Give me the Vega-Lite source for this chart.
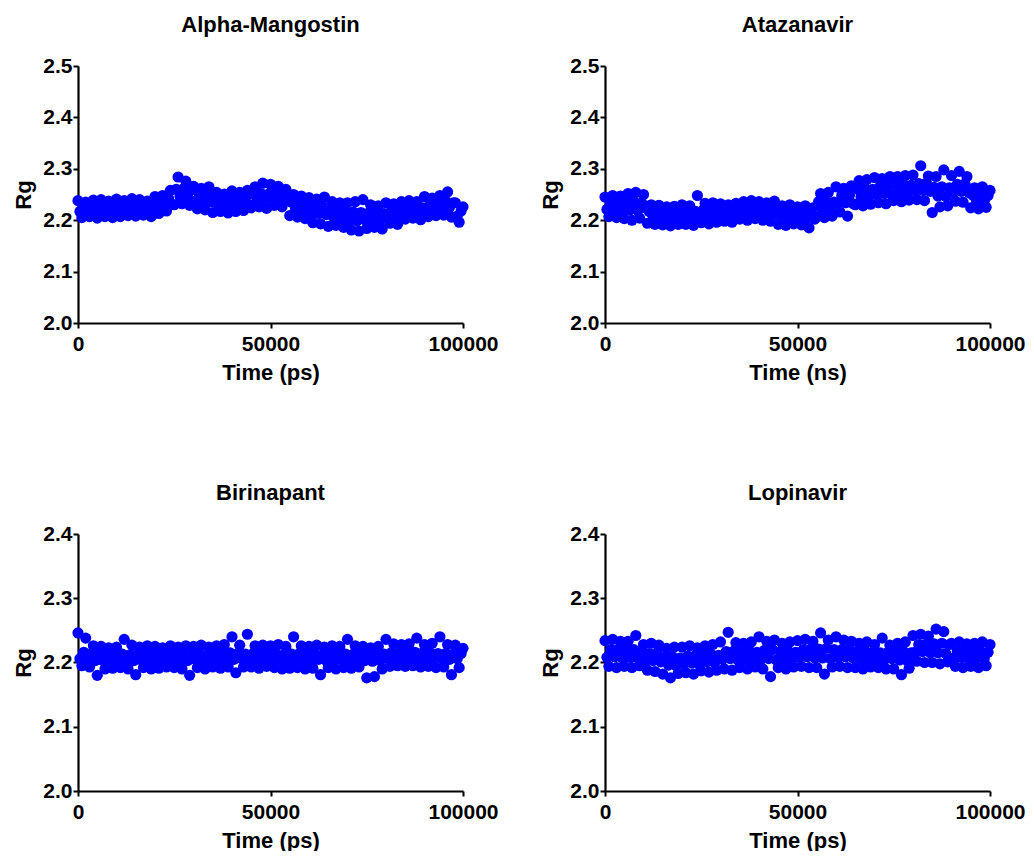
{
"$schema": "https://vega.github.io/schema/vega-lite/v6.json",
"padding": {"left": 12, "top": 14, "right": 4, "bottom": 0},
"bounds": "flush",
"columns": 2,
"spacing": {"row": 211, "column": 142},
"config": {
  "view": {"stroke": null},
  "font": "Liberation Sans",
  "title": {"fontSize": 22, "fontWeight": "bold", "font": "Liberation Sans", "color": "black", "offset": 18},
  "axis": {"domainColor": "black", "domainWidth": 2.2, "tickColor": "black", "tickWidth": 2, "tickSize": 5, "grid": false,
    "labelFont": "Liberation Sans", "labelFontSize": 21, "labelFontWeight": "bold", "labelColor": "black", "labelFlush": false, "labelPadding": 1,
    "titleFont": "Liberation Sans", "titleFontSize": 22, "titleFontWeight": "bold", "titleColor": "black"},
  "axisX": {"labelPadding": 5, "titlePadding": 8},
  "axisY": {"titlePadding": 7}
},
"datasets": {
"am": [
{"t":0,"r":2.238},{"t":500,"r":2.217},{"t":1000,"r":2.205},{"t":1500,"r":2.226},{"t":2000,"r":2.235},{"t":2500,"r":2.218},{"t":3000,"r":2.207},{"t":3500,"r":2.227},{"t":4000,"r":2.239},{"t":4500,"r":2.216},
{"t":5000,"r":2.204},{"t":5500,"r":2.228},{"t":6000,"r":2.240},{"t":6500,"r":2.217},{"t":7000,"r":2.207},{"t":7500,"r":2.227},{"t":8000,"r":2.237},{"t":8500,"r":2.218},{"t":9000,"r":2.205},{"t":9500,"r":2.229},
{"t":10000,"r":2.241},{"t":10500,"r":2.219},{"t":11000,"r":2.207},{"t":11500,"r":2.229},{"t":12000,"r":2.238},{"t":12500,"r":2.220},{"t":13000,"r":2.209},{"t":13500,"r":2.228},{"t":14000,"r":2.242},{"t":14500,"r":2.218},
{"t":15000,"r":2.208},{"t":15500,"r":2.229},{"t":16000,"r":2.240},{"t":16500,"r":2.219},{"t":17000,"r":2.210},{"t":17500,"r":2.228},{"t":18000,"r":2.237},{"t":18500,"r":2.220},{"t":19000,"r":2.207},{"t":19500,"r":2.230},
{"t":20000,"r":2.246},{"t":20500,"r":2.225},{"t":21000,"r":2.213},{"t":21500,"r":2.234},{"t":22000,"r":2.248},{"t":22500,"r":2.228},{"t":23000,"r":2.218},{"t":23500,"r":2.243},{"t":24000,"r":2.258},{"t":24500,"r":2.231},
{"t":25000,"r":2.230},{"t":25500,"r":2.260},{"t":26000,"r":2.284},{"t":26500,"r":2.246},{"t":27000,"r":2.232},{"t":27500,"r":2.262},{"t":28000,"r":2.276},{"t":28500,"r":2.247},{"t":29000,"r":2.229},{"t":29500,"r":2.259},
{"t":30000,"r":2.266},{"t":30500,"r":2.237},{"t":31000,"r":2.222},{"t":31500,"r":2.249},{"t":32000,"r":2.262},{"t":32500,"r":2.238},{"t":33000,"r":2.220},{"t":33500,"r":2.250},{"t":34000,"r":2.265},{"t":34500,"r":2.236},
{"t":35000,"r":2.215},{"t":35500,"r":2.240},{"t":36000,"r":2.254},{"t":36500,"r":2.229},{"t":37000,"r":2.217},{"t":37500,"r":2.241},{"t":38000,"r":2.251},{"t":38500,"r":2.230},{"t":39000,"r":2.214},{"t":39500,"r":2.239},
{"t":40000,"r":2.257},{"t":40500,"r":2.231},{"t":41000,"r":2.217},{"t":41500,"r":2.243},{"t":42000,"r":2.254},{"t":42500,"r":2.232},{"t":43000,"r":2.219},{"t":43500,"r":2.244},{"t":44000,"r":2.258},{"t":44500,"r":2.230},
{"t":45000,"r":2.224},{"t":45500,"r":2.251},{"t":46000,"r":2.265},{"t":46500,"r":2.238},{"t":47000,"r":2.226},{"t":47500,"r":2.252},{"t":48000,"r":2.272},{"t":48500,"r":2.239},{"t":49000,"r":2.223},{"t":49500,"r":2.251},
{"t":50000,"r":2.270},{"t":50500,"r":2.243},{"t":51000,"r":2.229},{"t":51500,"r":2.254},{"t":52000,"r":2.266},{"t":52500,"r":2.239},{"t":53000,"r":2.226},{"t":53500,"r":2.248},{"t":54000,"r":2.260},{"t":54500,"r":2.238},
{"t":55000,"r":2.209},{"t":55500,"r":2.235},{"t":56000,"r":2.250},{"t":56500,"r":2.222},{"t":57000,"r":2.206},{"t":57500,"r":2.233},{"t":58000,"r":2.247},{"t":58500,"r":2.220},{"t":59000,"r":2.203},{"t":59500,"r":2.231},
{"t":60000,"r":2.244},{"t":60500,"r":2.212},{"t":61000,"r":2.195},{"t":61500,"r":2.226},{"t":62000,"r":2.241},{"t":62500,"r":2.213},{"t":63000,"r":2.193},{"t":63500,"r":2.227},{"t":64000,"r":2.245},{"t":64500,"r":2.211},
{"t":65000,"r":2.188},{"t":65500,"r":2.219},{"t":66000,"r":2.236},{"t":66500,"r":2.205},{"t":67000,"r":2.190},{"t":67500,"r":2.220},{"t":68000,"r":2.234},{"t":68500,"r":2.204},{"t":69000,"r":2.186},{"t":69500,"r":2.218},
{"t":70000,"r":2.234},{"t":70500,"r":2.200},{"t":71000,"r":2.181},{"t":71500,"r":2.216},{"t":72000,"r":2.236},{"t":72500,"r":2.199},{"t":73000,"r":2.179},{"t":73500,"r":2.215},{"t":74000,"r":2.240},{"t":74500,"r":2.201},
{"t":75000,"r":2.184},{"t":75500,"r":2.214},{"t":76000,"r":2.230},{"t":76500,"r":2.200},{"t":77000,"r":2.186},{"t":77500,"r":2.215},{"t":78000,"r":2.228},{"t":78500,"r":2.201},{"t":79000,"r":2.183},{"t":79500,"r":2.213},
{"t":80000,"r":2.234},{"t":80500,"r":2.208},{"t":81000,"r":2.194},{"t":81500,"r":2.220},{"t":82000,"r":2.232},{"t":82500,"r":2.209},{"t":83000,"r":2.192},{"t":83500,"r":2.221},{"t":84000,"r":2.236},{"t":84500,"r":2.207},
{"t":85000,"r":2.202},{"t":85500,"r":2.225},{"t":86000,"r":2.238},{"t":86500,"r":2.215},{"t":87000,"r":2.204},{"t":87500,"r":2.226},{"t":88000,"r":2.236},{"t":88500,"r":2.214},{"t":89000,"r":2.201},{"t":89500,"r":2.224},
{"t":90000,"r":2.246},{"t":90500,"r":2.221},{"t":91000,"r":2.207},{"t":91500,"r":2.232},{"t":92000,"r":2.243},{"t":92500,"r":2.222},{"t":93000,"r":2.209},{"t":93500,"r":2.233},{"t":94000,"r":2.248},{"t":94500,"r":2.220},
{"t":95000,"r":2.210},{"t":95500,"r":2.237},{"t":96000,"r":2.255},{"t":96500,"r":2.225},{"t":97000,"r":2.206},{"t":97500,"r":2.234},{"t":98000,"r":2.234},{"t":98500,"r":2.208},{"t":99000,"r":2.196},{"t":99500,"r":2.218},
{"t":100000,"r":2.226}
],
"at": [
{"t":0,"r":2.245},{"t":500,"r":2.221},{"t":1000,"r":2.207},{"t":1500,"r":2.233},{"t":2000,"r":2.248},{"t":2500,"r":2.222},{"t":3000,"r":2.205},{"t":3500,"r":2.234},{"t":4000,"r":2.247},{"t":4500,"r":2.220},
{"t":5000,"r":2.203},{"t":5500,"r":2.235},{"t":6000,"r":2.252},{"t":6500,"r":2.220},{"t":7000,"r":2.200},{"t":7500,"r":2.236},{"t":8000,"r":2.254},{"t":8500,"r":2.219},{"t":9000,"r":2.204},{"t":9500,"r":2.234},
{"t":10000,"r":2.250},{"t":10500,"r":2.224},{"t":11000,"r":2.194},{"t":11500,"r":2.217},{"t":12000,"r":2.230},{"t":12500,"r":2.207},{"t":13000,"r":2.192},{"t":13500,"r":2.218},{"t":14000,"r":2.229},{"t":14500,"r":2.206},
{"t":15000,"r":2.191},{"t":15500,"r":2.214},{"t":16000,"r":2.226},{"t":16500,"r":2.203},{"t":17000,"r":2.189},{"t":17500,"r":2.215},{"t":18000,"r":2.227},{"t":18500,"r":2.202},{"t":19000,"r":2.192},{"t":19500,"r":2.213},
{"t":20000,"r":2.230},{"t":20500,"r":2.205},{"t":21000,"r":2.192},{"t":21500,"r":2.217},{"t":22000,"r":2.228},{"t":22500,"r":2.206},{"t":23000,"r":2.190},{"t":23500,"r":2.217},{"t":24000,"r":2.248},{"t":24500,"r":2.204},
{"t":25000,"r":2.195},{"t":25500,"r":2.220},{"t":26000,"r":2.233},{"t":26500,"r":2.208},{"t":27000,"r":2.193},{"t":27500,"r":2.221},{"t":28000,"r":2.234},{"t":28500,"r":2.207},{"t":29000,"r":2.196},{"t":29500,"r":2.219},
{"t":30000,"r":2.232},{"t":30500,"r":2.210},{"t":31000,"r":2.198},{"t":31500,"r":2.220},{"t":32000,"r":2.230},{"t":32500,"r":2.211},{"t":33000,"r":2.196},{"t":33500,"r":2.221},{"t":34000,"r":2.233},{"t":34500,"r":2.209},
{"t":35000,"r":2.202},{"t":35500,"r":2.224},{"t":36000,"r":2.236},{"t":36500,"r":2.214},{"t":37000,"r":2.200},{"t":37500,"r":2.225},{"t":38000,"r":2.238},{"t":38500,"r":2.213},{"t":39000,"r":2.203},{"t":39500,"r":2.223},
{"t":40000,"r":2.236},{"t":40500,"r":2.213},{"t":41000,"r":2.200},{"t":41500,"r":2.223},{"t":42000,"r":2.234},{"t":42500,"r":2.214},{"t":43000,"r":2.198},{"t":43500,"r":2.224},{"t":44000,"r":2.237},{"t":44500,"r":2.212},
{"t":45000,"r":2.192},{"t":45500,"r":2.215},{"t":46000,"r":2.228},{"t":46500,"r":2.205},{"t":47000,"r":2.190},{"t":47500,"r":2.216},{"t":48000,"r":2.230},{"t":48500,"r":2.204},{"t":49000,"r":2.193},{"t":49500,"r":2.214},
{"t":50000,"r":2.226},{"t":50500,"r":2.203},{"t":51000,"r":2.191},{"t":51500,"r":2.214},{"t":52000,"r":2.228},{"t":52500,"r":2.204},{"t":53000,"r":2.185},{"t":53500,"r":2.213},{"t":54000,"r":2.224},{"t":54500,"r":2.202},
{"t":55000,"r":2.207},{"t":55500,"r":2.236},{"t":56000,"r":2.252},{"t":56500,"r":2.223},{"t":57000,"r":2.205},{"t":57500,"r":2.237},{"t":58000,"r":2.254},{"t":58500,"r":2.222},{"t":59000,"r":2.208},{"t":59500,"r":2.235},
{"t":60000,"r":2.265},{"t":60500,"r":2.233},{"t":61000,"r":2.216},{"t":61500,"r":2.248},{"t":62000,"r":2.262},{"t":62500,"r":2.234},{"t":63000,"r":2.208},{"t":63500,"r":2.249},{"t":64000,"r":2.267},{"t":64500,"r":2.232},
{"t":65000,"r":2.230},{"t":65500,"r":2.261},{"t":66000,"r":2.277},{"t":66500,"r":2.246},{"t":67000,"r":2.228},{"t":67500,"r":2.262},{"t":68000,"r":2.279},{"t":68500,"r":2.245},{"t":69000,"r":2.231},{"t":69500,"r":2.260},
{"t":70000,"r":2.283},{"t":70500,"r":2.251},{"t":71000,"r":2.234},{"t":71500,"r":2.266},{"t":72000,"r":2.281},{"t":72500,"r":2.252},{"t":73000,"r":2.232},{"t":73500,"r":2.267},{"t":74000,"r":2.285},{"t":74500,"r":2.250},
{"t":75000,"r":2.238},{"t":75500,"r":2.269},{"t":76000,"r":2.285},{"t":76500,"r":2.254},{"t":77000,"r":2.236},{"t":77500,"r":2.270},{"t":78000,"r":2.287},{"t":78500,"r":2.253},{"t":79000,"r":2.239},{"t":79500,"r":2.268},
{"t":80000,"r":2.288},{"t":80500,"r":2.257},{"t":81000,"r":2.240},{"t":81500,"r":2.271},{"t":82000,"r":2.306},{"t":82500,"r":2.258},{"t":83000,"r":2.238},{"t":83500,"r":2.272},{"t":84000,"r":2.286},{"t":84500,"r":2.256},
{"t":85000,"r":2.215},{"t":85500,"r":2.264},{"t":86000,"r":2.285},{"t":86500,"r":2.247},{"t":87000,"r":2.226},{"t":87500,"r":2.265},{"t":88000,"r":2.298},{"t":88500,"r":2.246},{"t":89000,"r":2.228},{"t":89500,"r":2.263},
{"t":90000,"r":2.287},{"t":90500,"r":2.255},{"t":91000,"r":2.237},{"t":91500,"r":2.270},{"t":92000,"r":2.295},{"t":92500,"r":2.256},{"t":93000,"r":2.235},{"t":93500,"r":2.271},{"t":94000,"r":2.285},{"t":94500,"r":2.254},
{"t":95000,"r":2.224},{"t":95500,"r":2.249},{"t":96000,"r":2.263},{"t":96500,"r":2.238},{"t":97000,"r":2.222},{"t":97500,"r":2.250},{"t":98000,"r":2.265},{"t":98500,"r":2.237},{"t":99000,"r":2.225},{"t":99500,"r":2.248},
{"t":100000,"r":2.258}
],
"bi": [
{"t":0,"r":2.246},{"t":500,"r":2.206},{"t":1000,"r":2.195},{"t":1500,"r":2.216},{"t":2000,"r":2.238},{"t":2500,"r":2.205},{"t":3000,"r":2.193},{"t":3500,"r":2.214},{"t":4000,"r":2.226},{"t":4500,"r":2.203},
{"t":5000,"r":2.180},{"t":5500,"r":2.212},{"t":6000,"r":2.225},{"t":6500,"r":2.203},{"t":7000,"r":2.190},{"t":7500,"r":2.213},{"t":8000,"r":2.223},{"t":8500,"r":2.204},{"t":9000,"r":2.191},{"t":9500,"r":2.212},
{"t":10000,"r":2.224},{"t":10500,"r":2.204},{"t":11000,"r":2.192},{"t":11500,"r":2.213},{"t":12000,"r":2.236},{"t":12500,"r":2.205},{"t":13000,"r":2.190},{"t":13500,"r":2.212},{"t":14000,"r":2.227},{"t":14500,"r":2.203},
{"t":15000,"r":2.181},{"t":15500,"r":2.213},{"t":16000,"r":2.224},{"t":16500,"r":2.204},{"t":17000,"r":2.192},{"t":17500,"r":2.212},{"t":18000,"r":2.226},{"t":18500,"r":2.203},{"t":19000,"r":2.190},{"t":19500,"r":2.214},
{"t":20000,"r":2.225},{"t":20500,"r":2.204},{"t":21000,"r":2.191},{"t":21500,"r":2.213},{"t":22000,"r":2.223},{"t":22500,"r":2.205},{"t":23000,"r":2.193},{"t":23500,"r":2.212},{"t":24000,"r":2.226},{"t":24500,"r":2.203},
{"t":25000,"r":2.192},{"t":25500,"r":2.213},{"t":26000,"r":2.224},{"t":26500,"r":2.204},{"t":27000,"r":2.190},{"t":27500,"r":2.214},{"t":28000,"r":2.226},{"t":28500,"r":2.203},{"t":29000,"r":2.180},{"t":29500,"r":2.212},
{"t":30000,"r":2.225},{"t":30500,"r":2.205},{"t":31000,"r":2.192},{"t":31500,"r":2.213},{"t":32000,"r":2.227},{"t":32500,"r":2.204},{"t":33000,"r":2.190},{"t":33500,"r":2.212},{"t":34000,"r":2.224},{"t":34500,"r":2.205},
{"t":35000,"r":2.193},{"t":35500,"r":2.214},{"t":36000,"r":2.226},{"t":36500,"r":2.205},{"t":37000,"r":2.191},{"t":37500,"r":2.213},{"t":38000,"r":2.228},{"t":38500,"r":2.204},{"t":39000,"r":2.193},{"t":39500,"r":2.215},
{"t":40000,"r":2.240},{"t":40500,"r":2.205},{"t":41000,"r":2.184},{"t":41500,"r":2.214},{"t":42000,"r":2.227},{"t":42500,"r":2.206},{"t":43000,"r":2.193},{"t":43500,"r":2.213},{"t":44000,"r":2.244},{"t":44500,"r":2.205},
{"t":45000,"r":2.193},{"t":45500,"r":2.214},{"t":46000,"r":2.226},{"t":46500,"r":2.205},{"t":47000,"r":2.191},{"t":47500,"r":2.213},{"t":48000,"r":2.227},{"t":48500,"r":2.204},{"t":49000,"r":2.194},{"t":49500,"r":2.214},
{"t":50000,"r":2.226},{"t":50500,"r":2.204},{"t":51000,"r":2.192},{"t":51500,"r":2.213},{"t":52000,"r":2.228},{"t":52500,"r":2.205},{"t":53000,"r":2.190},{"t":53500,"r":2.212},{"t":54000,"r":2.225},{"t":54500,"r":2.204},
{"t":55000,"r":2.191},{"t":55500,"r":2.213},{"t":56000,"r":2.240},{"t":56500,"r":2.204},{"t":57000,"r":2.192},{"t":57500,"r":2.214},{"t":58000,"r":2.226},{"t":58500,"r":2.205},{"t":59000,"r":2.190},{"t":59500,"r":2.212},
{"t":60000,"r":2.225},{"t":60500,"r":2.204},{"t":61000,"r":2.191},{"t":61500,"r":2.213},{"t":62000,"r":2.227},{"t":62500,"r":2.205},{"t":63000,"r":2.181},{"t":63500,"r":2.212},{"t":64000,"r":2.224},{"t":64500,"r":2.203},
{"t":65000,"r":2.192},{"t":65500,"r":2.213},{"t":66000,"r":2.226},{"t":66500,"r":2.204},{"t":67000,"r":2.190},{"t":67500,"r":2.214},{"t":68000,"r":2.225},{"t":68500,"r":2.205},{"t":69000,"r":2.192},{"t":69500,"r":2.213},
{"t":70000,"r":2.236},{"t":70500,"r":2.205},{"t":71000,"r":2.191},{"t":71500,"r":2.213},{"t":72000,"r":2.226},{"t":72500,"r":2.204},{"t":73000,"r":2.193},{"t":73500,"r":2.212},{"t":74000,"r":2.225},{"t":74500,"r":2.203},
{"t":75000,"r":2.176},{"t":75500,"r":2.211},{"t":76000,"r":2.223},{"t":76500,"r":2.202},{"t":77000,"r":2.178},{"t":77500,"r":2.211},{"t":78000,"r":2.225},{"t":78500,"r":2.203},{"t":79000,"r":2.190},{"t":79500,"r":2.213},
{"t":80000,"r":2.236},{"t":80500,"r":2.207},{"t":81000,"r":2.194},{"t":81500,"r":2.216},{"t":82000,"r":2.229},{"t":82500,"r":2.208},{"t":83000,"r":2.195},{"t":83500,"r":2.215},{"t":84000,"r":2.228},{"t":84500,"r":2.207},
{"t":85000,"r":2.194},{"t":85500,"r":2.215},{"t":86000,"r":2.229},{"t":86500,"r":2.207},{"t":87000,"r":2.195},{"t":87500,"r":2.216},{"t":88000,"r":2.238},{"t":88500,"r":2.206},{"t":89000,"r":2.193},{"t":89500,"r":2.215},
{"t":90000,"r":2.228},{"t":90500,"r":2.206},{"t":91000,"r":2.194},{"t":91500,"r":2.215},{"t":92000,"r":2.230},{"t":92500,"r":2.207},{"t":93000,"r":2.192},{"t":93500,"r":2.214},{"t":94000,"r":2.240},{"t":94500,"r":2.206},
{"t":95000,"r":2.193},{"t":95500,"r":2.214},{"t":96000,"r":2.228},{"t":96500,"r":2.205},{"t":97000,"r":2.181},{"t":97500,"r":2.213},{"t":98000,"r":2.227},{"t":98500,"r":2.206},{"t":99000,"r":2.192},{"t":99500,"r":2.214},
{"t":100000,"r":2.222}
],
"lo": [
{"t":0,"r":2.234},{"t":500,"r":2.208},{"t":1000,"r":2.194},{"t":1500,"r":2.220},{"t":2000,"r":2.236},{"t":2500,"r":2.209},{"t":3000,"r":2.192},{"t":3500,"r":2.221},{"t":4000,"r":2.233},{"t":4500,"r":2.207},
{"t":5000,"r":2.194},{"t":5500,"r":2.219},{"t":6000,"r":2.233},{"t":6500,"r":2.208},{"t":7000,"r":2.192},{"t":7500,"r":2.220},{"t":8000,"r":2.242},{"t":8500,"r":2.207},{"t":9000,"r":2.195},{"t":9500,"r":2.218},
{"t":10000,"r":2.228},{"t":10500,"r":2.202},{"t":11000,"r":2.188},{"t":11500,"r":2.214},{"t":12000,"r":2.230},{"t":12500,"r":2.203},{"t":13000,"r":2.186},{"t":13500,"r":2.215},{"t":14000,"r":2.227},{"t":14500,"r":2.201},
{"t":15000,"r":2.182},{"t":15500,"r":2.208},{"t":16000,"r":2.222},{"t":16500,"r":2.196},{"t":17000,"r":2.176},{"t":17500,"r":2.209},{"t":18000,"r":2.224},{"t":18500,"r":2.195},{"t":19000,"r":2.183},{"t":19500,"r":2.207},
{"t":20000,"r":2.224},{"t":20500,"r":2.198},{"t":21000,"r":2.184},{"t":21500,"r":2.210},{"t":22000,"r":2.226},{"t":22500,"r":2.199},{"t":23000,"r":2.182},{"t":23500,"r":2.211},{"t":24000,"r":2.223},{"t":24500,"r":2.197},
{"t":25000,"r":2.187},{"t":25500,"r":2.212},{"t":26000,"r":2.226},{"t":26500,"r":2.201},{"t":27000,"r":2.185},{"t":27500,"r":2.213},{"t":28000,"r":2.228},{"t":28500,"r":2.200},{"t":29000,"r":2.188},{"t":29500,"r":2.211},
{"t":30000,"r":2.232},{"t":30500,"r":2.205},{"t":31000,"r":2.190},{"t":31500,"r":2.217},{"t":32000,"r":2.247},{"t":32500,"r":2.206},{"t":33000,"r":2.188},{"t":33500,"r":2.218},{"t":34000,"r":2.231},{"t":34500,"r":2.204},
{"t":35000,"r":2.192},{"t":35500,"r":2.217},{"t":36000,"r":2.230},{"t":36500,"r":2.205},{"t":37000,"r":2.190},{"t":37500,"r":2.218},{"t":38000,"r":2.232},{"t":38500,"r":2.204},{"t":39000,"r":2.193},{"t":39500,"r":2.216},
{"t":40000,"r":2.240},{"t":40500,"r":2.205},{"t":41000,"r":2.190},{"t":41500,"r":2.219},{"t":42000,"r":2.233},{"t":42500,"r":2.206},{"t":43000,"r":2.178},{"t":43500,"r":2.220},{"t":44000,"r":2.235},{"t":44500,"r":2.204},
{"t":45000,"r":2.192},{"t":45500,"r":2.217},{"t":46000,"r":2.230},{"t":46500,"r":2.205},{"t":47000,"r":2.190},{"t":47500,"r":2.218},{"t":48000,"r":2.232},{"t":48500,"r":2.204},{"t":49000,"r":2.193},{"t":49500,"r":2.216},
{"t":50000,"r":2.234},{"t":50500,"r":2.208},{"t":51000,"r":2.194},{"t":51500,"r":2.220},{"t":52000,"r":2.236},{"t":52500,"r":2.209},{"t":53000,"r":2.192},{"t":53500,"r":2.221},{"t":54000,"r":2.233},{"t":54500,"r":2.207},
{"t":55000,"r":2.192},{"t":55500,"r":2.221},{"t":56000,"r":2.246},{"t":56500,"r":2.207},{"t":57000,"r":2.182},{"t":57500,"r":2.222},{"t":58000,"r":2.235},{"t":58500,"r":2.206},{"t":59000,"r":2.193},{"t":59500,"r":2.220},
{"t":60000,"r":2.240},{"t":60500,"r":2.208},{"t":61000,"r":2.194},{"t":61500,"r":2.220},{"t":62000,"r":2.235},{"t":62500,"r":2.209},{"t":63000,"r":2.192},{"t":63500,"r":2.221},{"t":64000,"r":2.233},{"t":64500,"r":2.207},
{"t":65000,"r":2.192},{"t":65500,"r":2.217},{"t":66000,"r":2.230},{"t":66500,"r":2.205},{"t":67000,"r":2.190},{"t":67500,"r":2.218},{"t":68000,"r":2.232},{"t":68500,"r":2.204},{"t":69000,"r":2.193},{"t":69500,"r":2.216},
{"t":70000,"r":2.228},{"t":70500,"r":2.205},{"t":71000,"r":2.192},{"t":71500,"r":2.215},{"t":72000,"r":2.238},{"t":72500,"r":2.204},{"t":73000,"r":2.190},{"t":73500,"r":2.216},{"t":74000,"r":2.227},{"t":74500,"r":2.206},
{"t":75000,"r":2.190},{"t":75500,"r":2.216},{"t":76000,"r":2.230},{"t":76500,"r":2.204},{"t":77000,"r":2.181},{"t":77500,"r":2.217},{"t":78000,"r":2.232},{"t":78500,"r":2.203},{"t":79000,"r":2.191},{"t":79500,"r":2.215},
{"t":80000,"r":2.242},{"t":80500,"r":2.216},{"t":81000,"r":2.202},{"t":81500,"r":2.228},{"t":82000,"r":2.244},{"t":82500,"r":2.217},{"t":83000,"r":2.200},{"t":83500,"r":2.229},{"t":84000,"r":2.241},{"t":84500,"r":2.215},
{"t":85000,"r":2.200},{"t":85500,"r":2.229},{"t":86000,"r":2.252},{"t":86500,"r":2.215},{"t":87000,"r":2.198},{"t":87500,"r":2.230},{"t":88000,"r":2.248},{"t":88500,"r":2.214},{"t":89000,"r":2.201},{"t":89500,"r":2.228},
{"t":90000,"r":2.230},{"t":90500,"r":2.207},{"t":91000,"r":2.194},{"t":91500,"r":2.217},{"t":92000,"r":2.232},{"t":92500,"r":2.208},{"t":93000,"r":2.192},{"t":93500,"r":2.218},{"t":94000,"r":2.229},{"t":94500,"r":2.206},
{"t":95000,"r":2.194},{"t":95500,"r":2.217},{"t":96000,"r":2.230},{"t":96500,"r":2.207},{"t":97000,"r":2.192},{"t":97500,"r":2.218},{"t":98000,"r":2.232},{"t":98500,"r":2.206},{"t":99000,"r":2.195},{"t":99500,"r":2.216},
{"t":100000,"r":2.228}
]
},
"concat": [
{
  "title": "Alpha-Mangostin",
  "width": 385, "height": 257,
  "data": {"name": "am"},
  "mark": {"type": "circle", "size": 125, "color": "#0000ff", "opacity": 1},
  "encoding": {
    "x": {"field": "t", "type": "quantitative", "scale": {"domain": [0, 100000], "nice": false}, "axis": {"values": [0, 50000, 100000], "format": "d", "title": "Time (ps)"}},
    "y": {"field": "r", "type": "quantitative", "scale": {"domain": [2.0, 2.5], "nice": false, "zero": false}, "axis": {"values": [2.0, 2.1, 2.2, 2.3, 2.4, 2.5], "format": ".1f", "title": "Rg"}}
  }
},
{
  "title": "Atazanavir",
  "width": 385, "height": 257,
  "data": {"name": "at"},
  "mark": {"type": "circle", "size": 125, "color": "#0000ff", "opacity": 1},
  "encoding": {
    "x": {"field": "t", "type": "quantitative", "scale": {"domain": [0, 100000], "nice": false}, "axis": {"values": [0, 50000, 100000], "format": "d", "title": "Time (ns)"}},
    "y": {"field": "r", "type": "quantitative", "scale": {"domain": [2.0, 2.5], "nice": false, "zero": false}, "axis": {"values": [2.0, 2.1, 2.2, 2.3, 2.4, 2.5], "format": ".1f", "title": "Rg"}}
  }
},
{
  "title": "Birinapant",
  "width": 385, "height": 257,
  "data": {"name": "bi"},
  "mark": {"type": "circle", "size": 125, "color": "#0000ff", "opacity": 1},
  "encoding": {
    "x": {"field": "t", "type": "quantitative", "scale": {"domain": [0, 100000], "nice": false}, "axis": {"values": [0, 50000, 100000], "format": "d", "title": "Time (ps)"}},
    "y": {"field": "r", "type": "quantitative", "scale": {"domain": [2.0, 2.4], "nice": false, "zero": false}, "axis": {"values": [2.0, 2.1, 2.2, 2.3, 2.4], "format": ".1f", "title": "Rg"}}
  }
},
{
  "title": "Lopinavir",
  "width": 385, "height": 257,
  "data": {"name": "lo"},
  "mark": {"type": "circle", "size": 125, "color": "#0000ff", "opacity": 1},
  "encoding": {
    "x": {"field": "t", "type": "quantitative", "scale": {"domain": [0, 100000], "nice": false}, "axis": {"values": [0, 50000, 100000], "format": "d", "title": "Time (ps)"}},
    "y": {"field": "r", "type": "quantitative", "scale": {"domain": [2.0, 2.4], "nice": false, "zero": false}, "axis": {"values": [2.0, 2.1, 2.2, 2.3, 2.4], "format": ".1f", "title": "Rg"}}
  }
}
]
}
